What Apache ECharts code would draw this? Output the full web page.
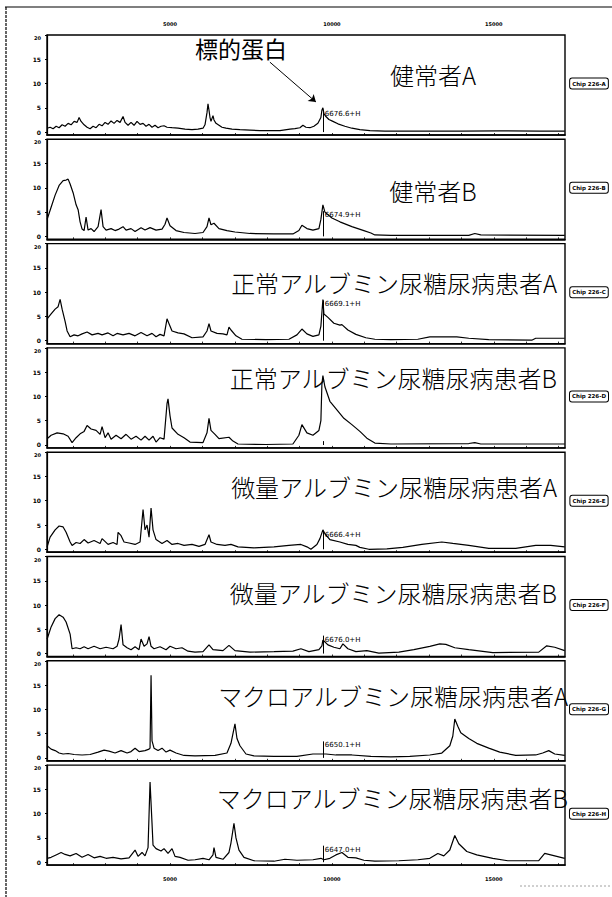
<!DOCTYPE html>
<html><head><meta charset="utf-8">
<script src="https://cdn.jsdelivr.net/npm/echarts@6/dist/echarts.min.js"></script>
<style>html,body{margin:0;padding:0;background:#fff}#c{width:612px;height:897px}</style>
</head><body><div id="c"></div>
<script>
// ---- data ----
const panelNames = ['健常者A','健常者B','正常アルブミン尿糖尿病患者A','正常アルブミン尿糖尿病患者B','微量アルブミン尿糖尿病患者A','微量アルブミン尿糖尿病患者B','マクロアルブミン尿糖尿病患者A','マクロアルブミン尿糖尿病患者B'];
const chipLabels = ['Chip 226-A','Chip 226-B','Chip 226-C','Chip 226-D','Chip 226-E','Chip 226-F','Chip 226-G','Chip 226-H'];
const peakLabels = ['6676.6+H','6674.9+H','6669.1+H','','6666.4+H','6676.0+H','6650.1+H','6647.0+H'];
const peakLabelY = [3.8, 4.4, 7.5, 0, 2.9, 2.9, 2.6, 2.6];
const targetPeakX = 9722;
const xTicks = [5000, 10000, 15000];
const yTicks = [0, 5, 10, 15, 20];

const sA = [[1204,0.8],[1296,1.0],[1389,0.7],[1482,1.2],[1574,0.9],[1667,1.5],[1759,1.2],[1852,1.8],[1944,1.5],[2037,2.2],[2130,2.0],[2191,3.0],[2253,2.2],[2346,1.5],[2438,1.0],[2531,0.7],[2623,1.2],[2716,0.9],[2809,1.6],[2901,1.3],[2994,2.0],[3086,1.6],[3179,2.3],[3272,1.8],[3364,2.4],[3457,2.0],[3549,3.2],[3611,2.0],[3704,1.4],[3796,2.0],[3889,1.4],[3981,2.2],[4074,1.6],[4167,1.8],[4259,1.2],[4352,1.6],[4444,1.0],[4537,1.4],[4630,0.9],[4722,1.2],[4815,1.3],[4907,1.0],[5062,0.9],[5247,0.8],[5463,0.6],[5679,0.5],[5864,0.6],[6019,0.8],[6080,1.5],[6142,4.0],[6173,5.8],[6204,4.5],[6235,3.0],[6265,2.2],[6327,3.4],[6358,2.5],[6420,1.8],[6512,1.4],[6605,1.0],[6728,0.8],[6914,0.6],[7160,0.5],[7469,0.4],[7778,0.3],[8086,0.3],[8395,0.3],[8704,0.6],[8858,0.7],[9012,0.9],[9105,1.4],[9198,1.0],[9321,0.9],[9444,1.2],[9568,1.8],[9660,3.0],[9691,4.5],[9722,5.0],[9753,3.8],[9815,3.2],[9907,2.6],[10031,2.2],[10185,1.7],[10401,1.2],[10617,0.8],[10864,0.5],[11173,0.3],[11636,0.2],[12716,0.2],[13951,0.2],[15185,0.25],[16420,0.2],[17191,0.2]];
const sB = [[1204,3.5],[1327,6.0],[1451,8.5],[1574,10.5],[1698,11.5],[1790,11.6],[1852,11.8],[1914,10.8],[2006,9.0],[2099,6.5],[2161,5.5],[2222,3.0],[2284,1.5],[2346,1.2],[2407,4.0],[2469,1.3],[2562,1.6],[2654,1.0],[2778,2.0],[2870,5.5],[2932,2.0],[3025,1.3],[3179,1.6],[3302,1.2],[3426,1.5],[3549,2.0],[3642,1.3],[3796,1.6],[3920,1.0],[4105,1.8],[4228,1.3],[4383,1.8],[4568,1.3],[4753,1.5],[4846,2.5],[4907,3.8],[5000,2.2],[5185,1.2],[5432,0.8],[5772,0.6],[6019,0.8],[6142,2.0],[6204,3.8],[6265,2.4],[6358,2.7],[6512,1.6],[6759,1.2],[7006,0.9],[7469,0.6],[8210,0.5],[8796,0.5],[8981,1.2],[9074,2.3],[9228,1.6],[9414,1.3],[9599,1.6],[9660,3.5],[9722,6.5],[9784,5.0],[10000,3.8],[10247,3.0],[10617,2.0],[10988,1.2],[11204,0.7],[11327,0.3],[11821,0.2],[14228,0.2],[14414,0.6],[14599,0.3],[17191,0.2]];
const sC = [[1204,4.5],[1327,5.5],[1451,6.5],[1543,7.0],[1605,8.5],[1667,6.5],[1759,4.0],[1821,2.0],[1914,0.8],[2037,1.2],[2161,1.0],[2284,1.4],[2438,1.8],[2593,1.2],[2778,1.5],[2901,1.2],[3086,1.6],[3241,1.0],[3364,1.5],[3549,1.2],[3735,1.5],[3920,1.0],[4105,1.7],[4290,1.0],[4444,1.5],[4568,0.8],[4691,1.3],[4815,1.0],[4907,4.5],[4969,3.5],[5062,2.0],[5247,1.6],[5432,1.4],[5679,0.6],[6019,0.8],[6142,2.0],[6204,3.5],[6265,2.0],[6451,1.5],[6636,1.4],[6759,1.2],[6821,2.8],[6883,2.2],[7037,1.0],[7222,0.3],[7963,0.2],[8673,0.3],[8920,1.2],[9074,2.4],[9228,1.4],[9414,0.9],[9599,1.2],[9660,3.0],[9722,8.5],[9753,5.5],[9877,4.8],[10062,3.6],[10247,3.2],[10309,3.3],[10494,2.2],[10741,1.3],[11049,0.6],[11327,0.3],[11821,0.2],[12654,0.3],[13025,0.8],[13858,0.8],[14228,0.5],[14846,0.2],[16173,0.1],[16296,0.5],[17191,0.5]];
const sD = [[1204,1.3],[1327,2.0],[1512,2.5],[1698,2.3],[1852,1.8],[1975,0.5],[2099,1.5],[2222,2.3],[2346,2.8],[2438,4.0],[2562,3.3],[2716,3.0],[2840,2.2],[2901,3.8],[2994,1.5],[3086,2.5],[3179,1.2],[3333,2.0],[3488,1.3],[3642,2.2],[3796,1.2],[3951,1.8],[4105,1.0],[4228,1.8],[4352,1.0],[4475,1.8],[4568,0.6],[4691,1.5],[4815,1.2],[4907,8.5],[4938,9.5],[5000,6.0],[5062,3.5],[5247,2.2],[5432,1.5],[5617,0.6],[6019,0.5],[6142,2.5],[6204,5.5],[6265,3.0],[6389,2.2],[6512,1.3],[6821,1.6],[6944,0.8],[7099,0.2],[7963,0.1],[8796,0.2],[8981,2.0],[9074,4.2],[9228,2.5],[9414,2.0],[9599,3.0],[9660,5.0],[9691,12.5],[9722,14.3],[9784,12.0],[9938,9.0],[10123,7.5],[10370,5.5],[10617,4.2],[10864,2.8],[11080,1.4],[11327,0.4],[11821,0.2],[14228,0.3],[14414,0.5],[14599,0.2],[17191,0.2]];
const sE = [[1204,0.5],[1296,2.5],[1451,4.0],[1574,4.8],[1698,4.6],[1790,3.5],[1914,1.5],[1975,0.8],[2099,1.4],[2222,1.2],[2346,2.0],[2469,1.3],[2654,1.8],[2840,1.2],[2901,2.2],[3086,1.0],[3241,1.4],[3364,1.0],[3395,3.5],[3488,2.8],[3580,1.5],[3735,1.3],[3920,1.0],[4074,1.5],[4167,8.2],[4228,4.0],[4290,5.0],[4352,2.5],[4414,8.5],[4475,4.0],[4568,2.0],[4753,1.2],[4907,1.8],[5062,1.0],[5247,1.2],[5432,0.8],[5679,1.0],[5895,0.6],[6080,1.0],[6204,3.0],[6265,1.5],[6451,1.0],[6698,0.8],[6883,1.0],[7099,0.5],[7593,0.3],[8210,0.5],[8673,0.8],[9043,1.0],[9228,0.5],[9352,0.0],[9537,1.0],[9630,2.2],[9722,4.0],[9784,3.2],[9938,2.0],[10247,1.5],[10494,1.0],[10741,0.8],[10864,0.4],[11142,0.0],[11698,0.1],[12191,0.4],[12778,1.0],[13395,1.5],[13735,1.2],[14228,0.8],[14846,0.2],[15679,0.2],[16296,0.8],[16759,0.8],[17191,0.5]];
const sF = [[1204,3.0],[1327,5.5],[1451,7.2],[1574,8.0],[1698,7.5],[1790,6.5],[1914,4.0],[1975,1.0],[2099,1.2],[2222,1.0],[2346,1.4],[2469,1.0],[2654,1.5],[2840,1.0],[3025,1.3],[3241,1.0],[3364,1.5],[3426,3.0],[3488,6.0],[3549,1.8],[3673,1.2],[3796,0.8],[3920,1.4],[4043,0.8],[4105,3.0],[4198,1.5],[4290,2.0],[4352,3.5],[4414,1.5],[4506,1.0],[4691,1.4],[4877,0.8],[5000,1.5],[5185,1.0],[5370,1.2],[5556,0.5],[5772,0.3],[6019,0.4],[6204,1.8],[6327,0.8],[6636,0.6],[6821,1.7],[7006,0.6],[7469,0.3],[8210,0.4],[8796,0.5],[9043,1.0],[9290,0.4],[9599,0.8],[9691,1.6],[9722,2.8],[9877,1.8],[10062,1.3],[10247,1.0],[10340,2.0],[10494,1.0],[10741,0.4],[11080,0.6],[11451,0.1],[12068,0.3],[12531,0.8],[13025,1.5],[13333,2.0],[13519,1.9],[13796,1.2],[14228,0.8],[14969,0.2],[16389,0.3],[16636,1.6],[16883,1.3],[17191,0.6]];
const sG = [[1204,2.5],[1327,1.8],[1451,1.5],[1574,1.0],[1698,0.8],[1852,0.9],[2037,0.7],[2284,0.6],[2531,0.7],[2778,1.2],[2963,1.6],[3117,1.4],[3302,1.0],[3488,1.5],[3673,1.0],[3796,1.3],[3920,2.0],[4043,1.3],[4228,1.5],[4352,1.8],[4383,2.0],[4414,17.0],[4444,3.5],[4506,2.0],[4630,1.5],[4753,2.0],[4877,1.2],[5000,1.6],[5185,1.0],[5432,0.5],[5772,0.4],[6389,0.5],[6759,1.0],[6883,3.0],[6944,5.0],[7006,7.0],[7068,4.0],[7160,2.5],[7346,0.8],[7593,0.4],[8210,0.3],[8920,0.3],[9414,0.8],[9691,0.8],[9815,0.8],[10123,0.6],[10617,0.6],[11204,0.3],[11821,0.2],[12407,0.3],[13025,0.6],[13395,1.0],[13642,2.5],[13735,4.5],[13796,8.0],[13889,6.5],[13981,5.2],[14228,4.0],[14475,3.0],[14846,2.0],[15185,1.2],[15679,0.5],[16296,0.6],[16512,1.0],[16698,1.5],[16883,0.8],[17191,0.5]];
const sH = [[1204,0.8],[1327,1.0],[1512,1.6],[1636,2.0],[1759,1.6],[1914,1.3],[2099,1.8],[2284,1.0],[2469,1.6],[2654,0.9],[2840,1.2],[3025,0.8],[3241,1.0],[3488,0.7],[3735,0.9],[3920,2.5],[4012,1.2],[4136,2.0],[4228,1.3],[4321,3.0],[4383,16.5],[4444,8.0],[4475,3.5],[4568,2.8],[4722,2.3],[4815,2.8],[4938,1.8],[5062,2.8],[5154,1.2],[5309,1.0],[5556,0.4],[5772,0.5],[6019,0.8],[6204,0.5],[6327,1.5],[6358,3.0],[6420,1.0],[6636,0.6],[6821,2.0],[6883,4.0],[6975,8.0],[7037,5.0],[7130,2.5],[7284,1.0],[7593,0.3],[8210,0.2],[8549,0.6],[8920,0.4],[9414,0.5],[9660,0.8],[9753,0.5],[9938,0.8],[10123,1.5],[10309,2.0],[10494,1.0],[10741,0.9],[10988,0.4],[11327,0.2],[12068,0.3],[12654,0.5],[13025,0.8],[13272,1.8],[13457,1.3],[13642,2.5],[13796,5.5],[13920,3.8],[14167,2.2],[14475,1.5],[14969,0.8],[15432,0.3],[16389,0.3],[16574,1.8],[16759,1.5],[17191,0.8]];
const spectra = [sA, sB, sC, sD, sE, sF, sG, sH];

// label anchor values (intensity units) for panel names and chip boxes
const nameY = [11.8, 9.35, 11.9, 13.8, 13.0, 12.5, 12.75, 13.4];
const chipY = [10, 10, 10, 10, 10, 10, 10, 10];

// ---- layout ----
const Y_MIN = -0.6, Y_MAX = 20;
const L = 47, R = 47, T0 = 35, STEP = 104.3, H = 100;
const tops = spectra.map((_, i) => T0 + i * STEP);
const yPix = (i, v) => tops[i] + (Y_MAX - v) / (Y_MAX - Y_MIN) * H;

const grids = [], xAxes = [], yAxes = [], series = [], graphics = [];
spectra.forEach((data, i) => {
  grids.push({left: L, right: R, top: tops[i], height: H, show: true, borderColor: '#000', borderWidth: 1.4, backgroundColor: 'transparent'});
  xAxes.push({type: 'value', gridIndex: i, min: 1200, max: 17200, position: 'bottom',
    axisLine: {show: true, onZero: false, lineStyle: {color: '#000', width: 1.6}},
    axisTick: {show: true, inside: true, length: 2, lineStyle: {color: '#000', width: 0.8}, customValues: [2000,3000,4000,5000,6000,7000,8000,9000,10000,11000,12000,13000,14000,15000,16000,17000]},
    axisLabel: {show: i === spectra.length - 1, customValues: xTicks, formatter: v => String(v), fontSize: 5, fontWeight: 'bold', color: '#000', margin: 11, fontFamily: 'DejaVu Sans'},
    splitLine: {show: false}});
  yAxes.push({type: 'value', gridIndex: i, min: Y_MIN, max: Y_MAX,
    axisLine: {show: true, lineStyle: {color: '#000', width: 1.2}},
    axisTick: {show: true, length: 2, lineStyle: {color: '#000'}, customValues: yTicks},
    axisLabel: {customValues: yTicks, formatter: v => v === 20 ? '{t|20}' : String(v),
      rich: {t: {fontSize: 5, fontWeight: 'bold', padding: [6, 0, 0, 0], fontFamily: 'DejaVu Sans', color: '#000'}},
      fontSize: 6, fontWeight: 'bold', color: '#000', margin: 6, fontFamily: 'DejaVu Sans'},
    splitLine: {show: false}});
  const s = {type: 'line', xAxisIndex: i, yAxisIndex: i, data: data, showSymbol: false, symbol: 'none',
    lineStyle: {color: '#000', width: 1.2}, animation: false, silent: true, z: 3};
  const mp = [];
  if (peakLabels[i]) {
    mp.push({coord: [targetPeakX + 60, peakLabelY[i]], symbol: 'circle', symbolSize: 0,
      label: {show: true, position: 'right', distance: 0, formatter: peakLabels[i], fontSize: 7, color: '#000', fontFamily: 'DejaVu Sans'}});
  }
  const ml = [[{coord: [targetPeakX, 0]}, {coord: [targetPeakX, peakLabelY[i] + 0.8]}]];
  if (i === 0) {
    ml.push([{coord: [8086, 14.4], symbol: 'none'}, {coord: [9506, 6.2], symbol: 'arrow', symbolSize: 7}]);
    mp.push({coord: [7191, 17.3], symbol: 'circle', symbolSize: 0,
      label: {show: true, position: 'inside', formatter: '標的蛋白', fontSize: 23, color: '#000', fontFamily: 'Noto Sans CJK JP'}});
  }
  s.markLine = {silent: true, symbol: 'none', label: {show: false}, lineStyle: {color: '#000', width: 1, type: 'solid'}, data: ml, animation: false};
  s.markPoint = {silent: true, data: mp, animation: false};
  series.push(s);

  const centered = i < 2;
  graphics.push({type: 'text', x: centered ? 433 : (i >= 6 ? 568 : 557), y: yPix(i, nameY[i]),
    style: {text: panelNames[i], font: '300 24px "Noto Sans CJK JP"', fill: '#000', textAlign: centered ? 'center' : 'right', textVerticalAlign: 'middle'}, z: 10});
  graphics.push({type: 'text', x: 589, y: yPix(i, chipY[i]),
    style: {text: chipLabels[i], font: 'bold 5.5px "DejaVu Sans"', fill: '#000', textAlign: 'center', textVerticalAlign: 'middle',
      backgroundColor: '#fff', borderColor: '#000', borderWidth: 1, borderRadius: 2, padding: [2, 2]}, z: 10});
});
// top axis labels for first panel
xAxes.push({type: 'value', gridIndex: 0, min: 1200, max: 17200, position: 'top',
  axisLine: {show: false}, axisTick: {show: false}, splitLine: {show: false},
  axisLabel: {customValues: xTicks, formatter: v => String(v), fontSize: 5, fontWeight: 'bold', color: '#000', margin: 9, fontFamily: 'DejaVu Sans'}});

// outer frame and scan artefact
graphics.push({type: 'line', shape: {x1: 5, y1: 7, x2: 612, y2: 7}, style: {stroke: '#000', lineWidth: 1.2}});
graphics.push({type: 'line', shape: {x1: 6, y1: 7, x2: 6, y2: 897}, style: {stroke: '#000', lineWidth: 1.2, lineDash: [3, 1]}});
graphics.push({type: 'line', shape: {x1: 520, y1: 886, x2: 610, y2: 886}, style: {stroke: '#888', lineWidth: 0.8, lineDash: [2, 2]}});

const chart = echarts.init(document.getElementById('c'), null, {renderer: 'svg'});
chart.setOption({animation: false, backgroundColor: '#fff', grid: grids, xAxis: xAxes, yAxis: yAxes, series: series, graphic: graphics});
</script></body></html>
